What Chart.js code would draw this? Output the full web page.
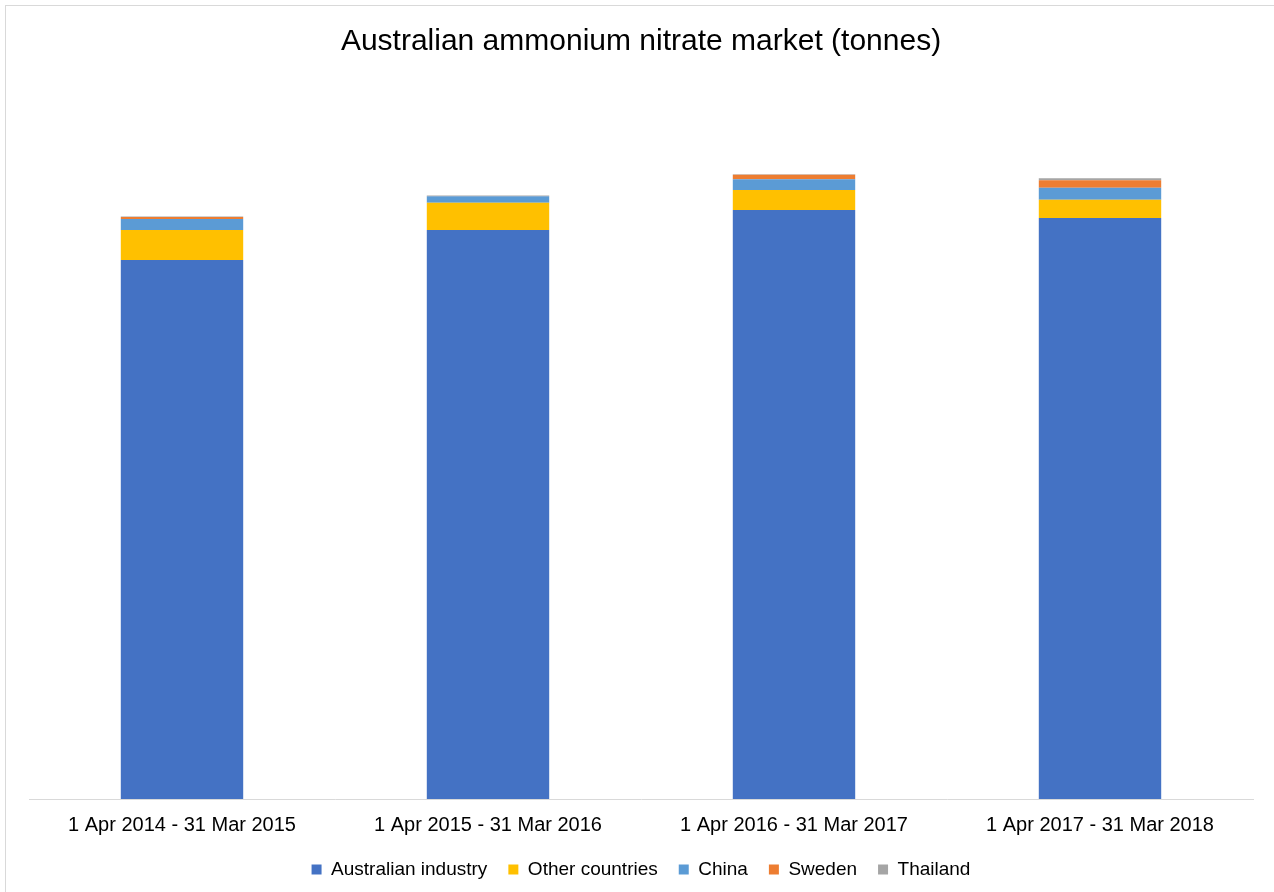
<!DOCTYPE html>
<html>
<head>
<meta charset="utf-8">
<script src="https://cdn.jsdelivr.net/npm/chart.js@4.4.1/dist/chart.umd.min.js"></script>
<style>
    html, body { margin: 0; padding: 0; background: #fff; }
    #wrap { position: relative; width: 1274px; height: 892px; overflow: hidden; }
    #frame { position: absolute; left: 5px; top: 5px; width: 1290px; height: 900px; border: 1px solid #d9d9d9; box-sizing: border-box; }
    #chart { position: absolute; left: 0; top: 0; }
</style>
</head>
<body>
<div id="wrap">
    <div id="frame"></div>
    <canvas id="chart" width="1274" height="892"></canvas>
</div>
<script>
// Categories (financial years)
const periods = [
    '1 Apr 2014 - 31 Mar 2015',
    '1 Apr 2015 - 31 Mar 2016',
    '1 Apr 2016 - 31 Mar 2017',
    '1 Apr 2017 - 31 Mar 2018'
];

// Volumes in tonnes
const australianIndustry = [1617000, 1707000, 1767000, 1743000];
const otherCountries = [90000, 82000, 60000, 55000];
const china = [33000, 19500, 32000, 36000];
const sweden = [6000, 500, 14000, 22000];
const thailand = [1500, 1500, 1500, 6000];

const yMax = 2100000;

const fontFamily = '"Liberation Sans", Arial, sans-serif';

function makeSet(label, data, colour) {
    return {
        label: label,
        data: data,
        backgroundColor: colour,
        borderWidth: 0,
        categoryPercentage: 1,
        barPercentage: 0.4
    };
}

const ctx = document.getElementById('chart').getContext('2d');
new Chart(ctx, {
    type: 'bar',
    data: {
        labels: periods,
        datasets: [
            makeSet('Australian industry', australianIndustry, '#4472C4'),
            makeSet('Other countries', otherCountries, '#FFC000'),
            makeSet('China', china, '#5B9BD5'),
            makeSet('Sweden', sweden, '#ED7D31'),
            makeSet('Thailand', thailand, '#A5A5A5')
        ]
    },
    options: {
        responsive: false,
        animation: false,
        layout: {
            padding: { top: 14, left: 29, right: 21, bottom: 3 }
        },
        plugins: {
            title: {
                display: true,
                text: 'Australian ammonium nitrate market (tonnes)',
                color: '#000',
                font: { family: fontFamily, size: 30, weight: 'normal' },
                padding: { top: 10, bottom: 39 }
            },
            legend: {
                position: 'bottom',
                labels: {
                    color: '#000',
                    font: { family: fontFamily, size: 19 },
                    boxWidth: 10,
                    boxHeight: 10,
                    padding: 21
                }
            },
            tooltip: { enabled: false }
        },
        scales: {
            x: {
                stacked: true,
                grid: { drawOnChartArea: false, drawTicks: false },
                border: { color: '#d9d9d9', width: 1 },
                ticks: {
                    color: '#000',
                    padding: 14,
                    font: { family: fontFamily, size: 20 }
                },
                // pull the legend closer to the labels
                afterFit: function(scale) {
                    scale.height -= 12;
                }
            },
            y: {
                stacked: true,
                display: false,
                min: 0,
                max: yMax
            }
        }
    }
});
</script>
</body>
</html>
